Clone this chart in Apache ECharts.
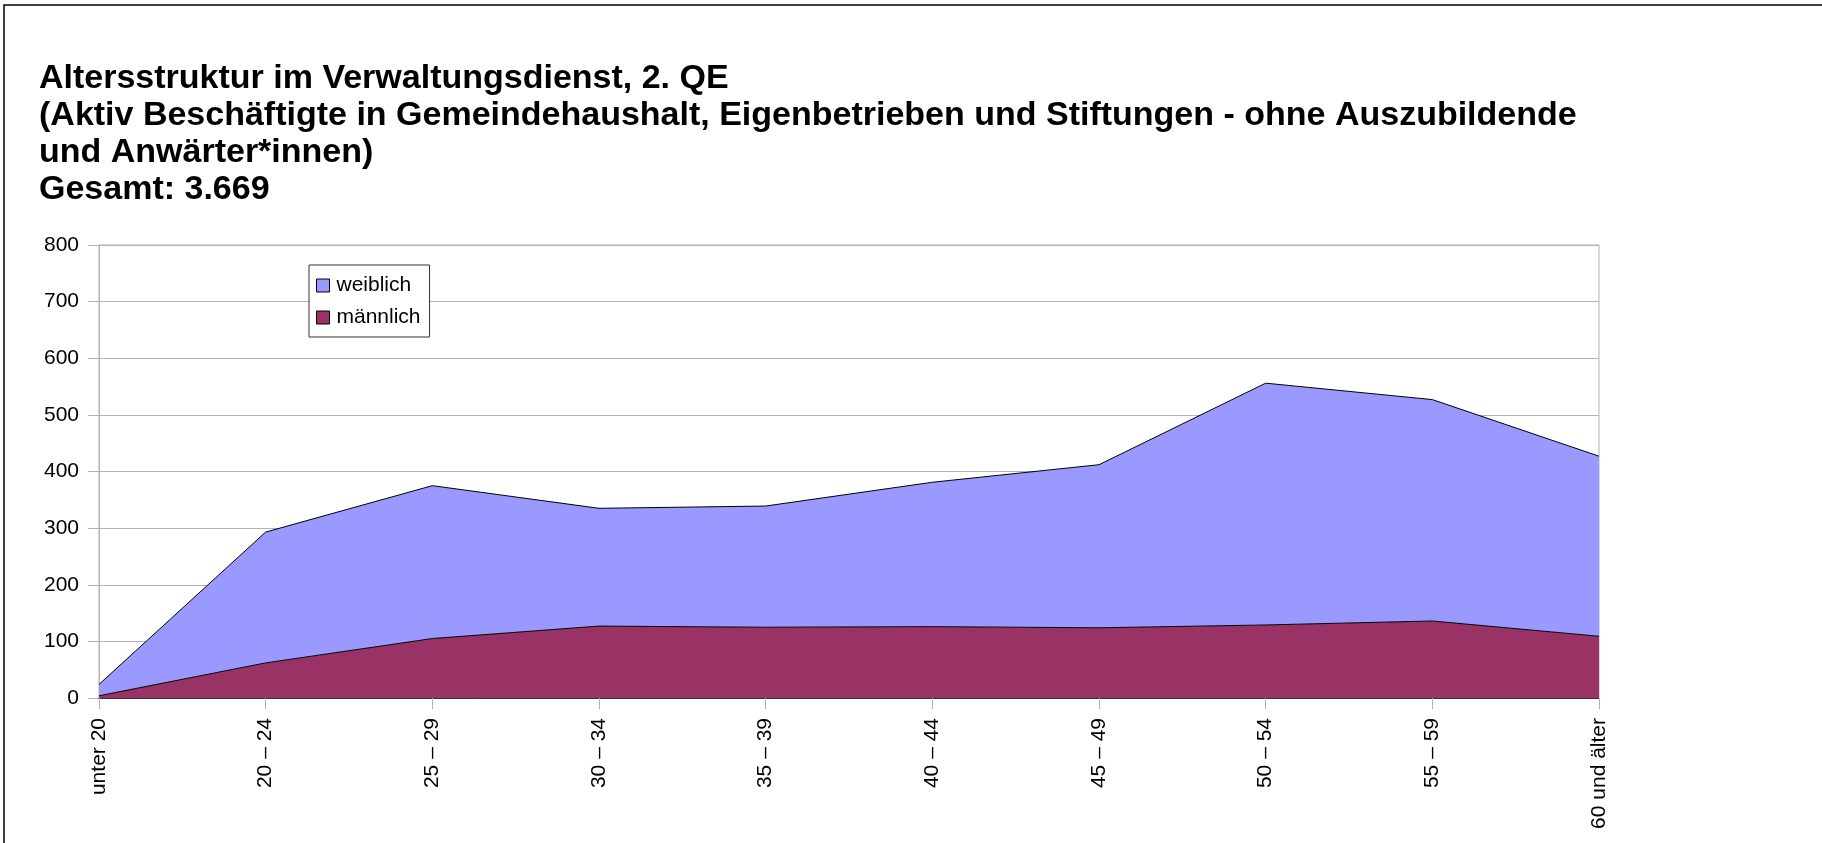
<!DOCTYPE html>
<html>
<head>
<meta charset="utf-8">
<script src="https://cdn.jsdelivr.net/npm/echarts@6/dist/echarts.min.js"></script>
<style>
  html, body { margin: 0; padding: 0; background: #fff; }
  #chart { width: 1822px; height: 843px; }
</style>
</head>
<body>
<div id="chart"></div>
<script>
// age groups on the x axis
const categories = ['unter 20', '20 – 24', '25 – 29', '30 – 34', '35 – 39',
                    '40 – 44', '45 – 49', '50 – 54', '55 – 59', '60 und älter'];
// headcounts (stacked: männlich below, weiblich on top)
const maennlich = [4, 62, 105, 127, 125, 126, 124, 129, 136, 109];
const weiblich = [20, 231, 270, 208, 214, 255, 288, 427, 391, 318];

const titleText = 'Altersstruktur im Verwaltungsdienst, 2. QE\n' +
  '(Aktiv Beschäftigte in Gemeindehaushalt, Eigenbetrieben und Stiftungen - ohne Auszubildende\n' +
  'und Anwärter*innen)\n' +
  'Gesamt: 3.669';

const font = 'Liberation Sans, Arial, sans-serif';
const gridColor = '#b3b3b3';

const chart = echarts.init(document.getElementById('chart'));

const option = {
  backgroundColor: '#fff',
  animation: false,
  title: {
    text: titleText,
    left: 39,
    top: 60,
    padding: 0,
    textStyle: {
      fontFamily: font,
      fontWeight: 'bold',
      fontSize: 34,
      lineHeight: 37,
      color: '#000'
    }
  },
  legend: {
    data: ['weiblich', 'männlich'],
    orient: 'vertical',
    left: 309,
    top: 265,
    icon: 'rect',
    itemWidth: 13,
    itemHeight: 13,
    itemGap: 11,
    padding: [10, 9, 9, 7],
    backgroundColor: '#fff',
    borderColor: '#333',
    borderWidth: 1,
    borderRadius: 0,
    itemStyle: { borderColor: '#000', borderWidth: 1 },
    textStyle: { fontFamily: font, fontSize: 21, color: '#000', padding: [0, 0, 0, 2] }
  },
  grid: {
    left: 99,
    right: 223,
    top: 245,
    bottom: 145,
    show: true,
    borderColor: gridColor,
    borderWidth: 1,
    containLabel: false
  },
  xAxis: {
    type: 'category',
    data: categories,
    boundaryGap: false,
    z: 5,
    axisLine: { lineStyle: { color: '#333', width: 1 } },
    axisTick: { show: true, length: 11, lineStyle: { color: gridColor } },
    axisLabel: {
      rotate: 90,
      margin: 20,
      interval: 0,
      fontFamily: font,
      fontSize: 21,
      color: '#000'
    }
  },
  yAxis: {
    type: 'value',
    min: 0,
    max: 800,
    interval: 100,
    axisLine: { show: true, lineStyle: { color: gridColor } },
    axisTick: { show: true, length: 11, lineStyle: { color: gridColor } },
    splitLine: { lineStyle: { color: gridColor, width: 1 } },
    axisLabel: {
      margin: 20,
      fontFamily: font,
      fontSize: 21,
      color: '#000'
    }
  },
  series: [
    {
      name: 'männlich',
      type: 'line',
      stack: 'gesamt',
      data: maennlich,
      symbol: 'none',
      color: '#993366',
      lineStyle: { color: '#000', width: 1 },
      areaStyle: { color: '#993366', opacity: 1 },
      z: 2
    },
    {
      name: 'weiblich',
      type: 'line',
      stack: 'gesamt',
      data: weiblich,
      symbol: 'none',
      color: '#9999ff',
      lineStyle: { color: '#000', width: 1 },
      areaStyle: { color: '#9999ff', opacity: 1 },
      z: 2
    }
  ],
  graphic: [
    {
      // frame of the exported picture (left and top edge visible)
      type: 'rect',
      silent: true,
      shape: { x: 4, y: 5, width: 2000, height: 1000 },
      style: { fill: 'none', stroke: '#000', lineWidth: 1.5 }
    }
  ]
};

chart.setOption(option);
</script>
</body>
</html>
